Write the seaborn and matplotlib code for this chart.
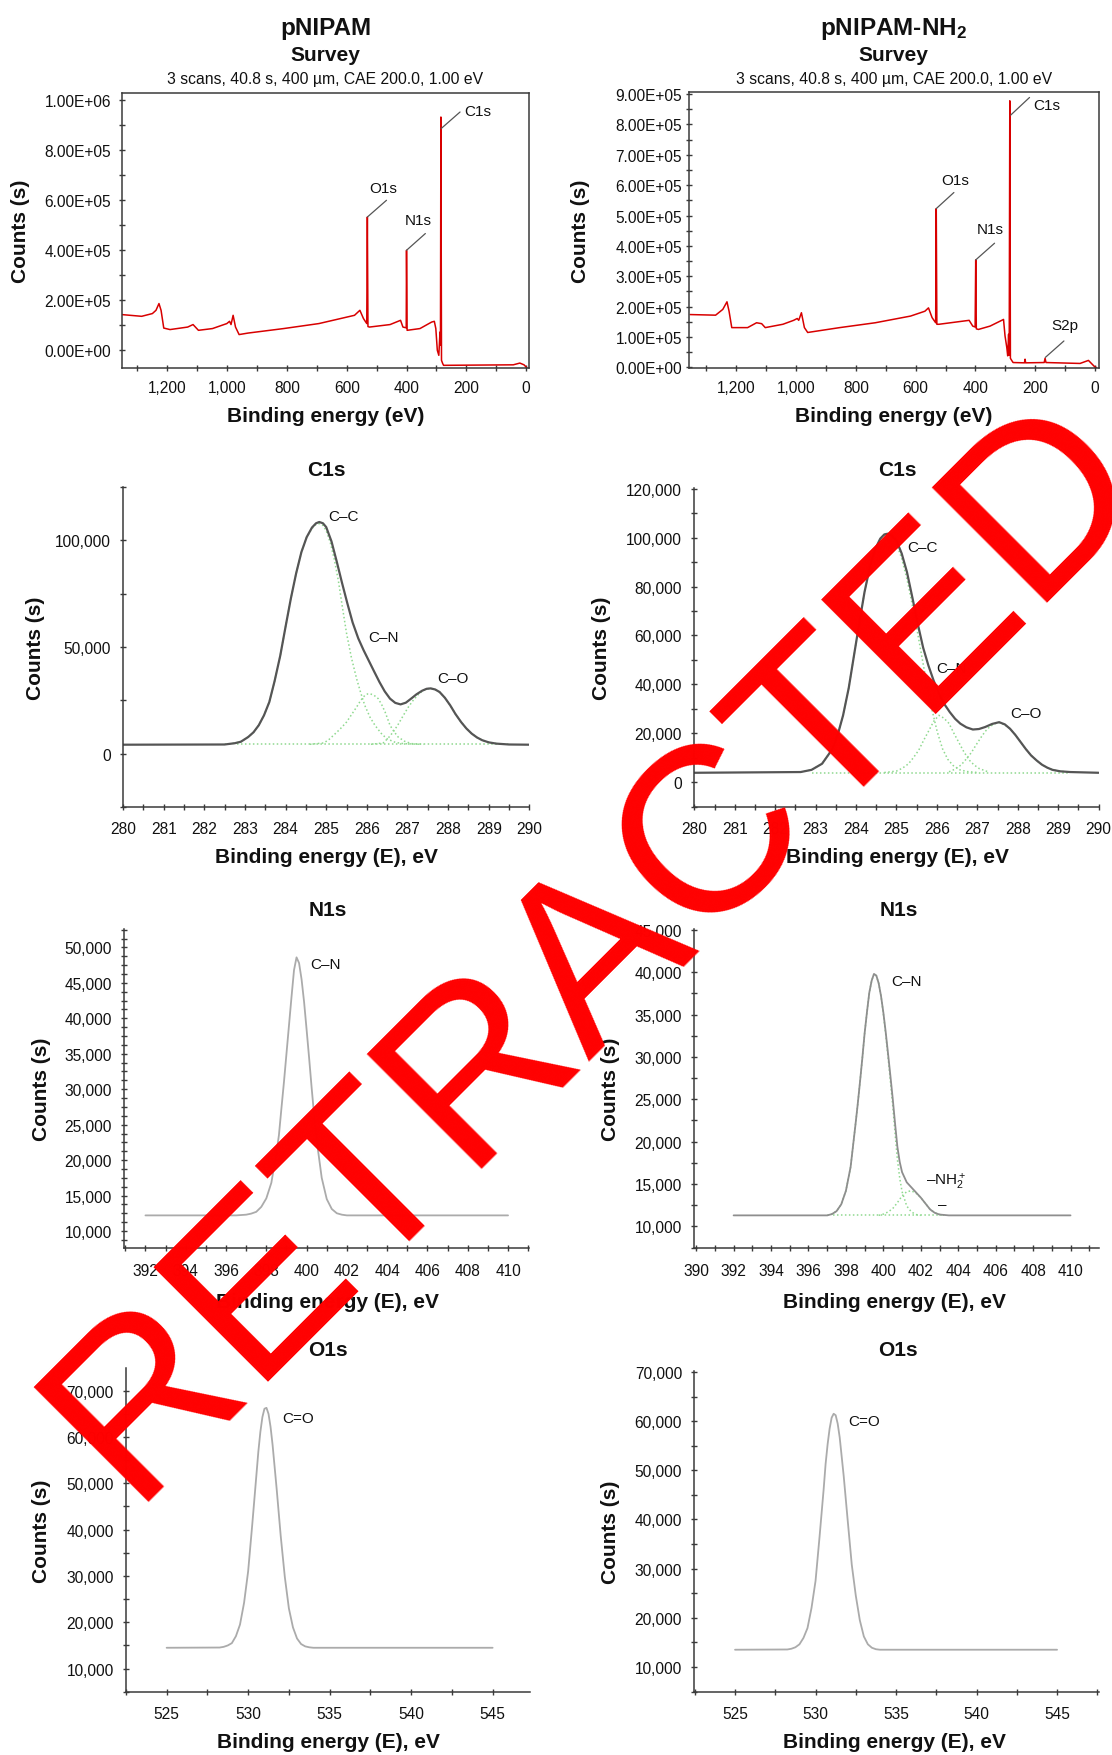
import numpy as np
import pandas as pd
import matplotlib
matplotlib.use("Agg")
import matplotlib.pyplot as plt
import seaborn as sns
from matplotlib.ticker import MultipleLocator, FuncFormatter

# ---------------- DATA ----------------
# Survey, pNIPAM (binding energy eV, counts)
surv1_E = [1353, 1286, 1250, 1238, 1228, 1221, 1212, 1191, 1132, 1114, 1096, 1049, 1001, 992, 987, 980,
           972, 960, 930, 811, 693, 574, 556, 544, 533, 531, 529, 524, 455, 420, 412, 401, 400, 398,
           355, 316, 307, 302, 297, 292, 288, 286.5, 285, 283, 279, 276, 43, 21, 7, -2]
surv1_C = [143000, 136000, 147000, 160000, 187000, 160000, 89000, 83000, 93000, 103000, 80000, 87000,
           107000, 116000, 103000, 140000, 93000, 63000, 69000, 87000, 107000, 140000, 160000, 127000,
           107000, 533000, 95000, 93000, 103000, 120000, 93000, 90000, 400000, 80000,
           87000, 113000, 116000, 87000, 0, -20000, 73000, 20000, 933000, -40000, -53000, -60000,
           -58000, -51000, -58000, -69000]
# Survey, pNIPAM-NH2
surv2_E = [1354, 1269, 1245, 1231, 1224, 1215, 1162, 1132, 1115, 1103, 1044, 1008, 996, 991, 982, 972,
           961, 854, 735, 617, 569, 557, 545, 533, 531, 529, 522, 421, 409, 401, 399, 397, 390, 351,
           312, 306, 301, 295, 292, 289, 287, 285, 283, 278, 274, 236, 234, 232, 170, 167, 164, 50,
           22, 0, -4]
surv2_C = [174000, 172000, 191000, 216000, 185000, 131000, 131000, 147000, 144000, 131000, 142000,
           155000, 161000, 155000, 180000, 131000, 115000, 131000, 147000, 169000, 185000, 196000,
           164000, 147000, 523000, 142000, 142000, 155000, 136000, 133000, 354000, 127000, 125000,
           136000, 155000, 158000, 104000, 65000, 38000, 109000, 40000, 878000, 30000, 22000, 16000,
           15000, 27000, 15000, 16000, 30000, 16000, 13000, 23000, 1000, 0]

# C1s, pNIPAM: envelope and fitted components
c1s1_E = [280.0, 282.5, 282.75, 282.9, 283.08, 283.21, 283.34, 283.47, 283.6, 283.73, 283.87, 284.0,
          284.13, 284.26, 284.39, 284.52, 284.65, 284.75, 284.83, 284.92, 285.0, 285.13, 285.26, 285.39,
          285.52, 285.65, 285.79, 285.92, 286.05, 286.18, 286.31, 286.44, 286.57, 286.7, 286.83, 286.96,
          287.09, 287.22, 287.36, 287.47, 287.57, 287.68, 287.79, 287.92, 288.05, 288.18, 288.32,
          288.45, 288.58, 288.71, 288.84, 289.0, 289.19, 289.5, 290.0]
c1s1_C = [4200, 4300, 4900, 5600, 7800, 10000, 13300, 18000, 24200, 34000, 46000, 59500, 72700, 84500,
          94500, 101500, 106000, 108000, 108600, 108000, 106200, 99500, 90000, 80000, 70500, 61500,
          54000, 48500, 43500, 38500, 33600, 29200, 25800, 23800, 23100, 23900, 25800, 27800, 29500,
          30400, 30600, 30100, 28900, 26200, 22700, 18600, 14800, 11800, 9400, 7600, 6300, 5300, 4700,
          4300, 4200]
c1s1_cc_E = [282.5, 282.75, 282.9, 283.08, 283.21, 283.34, 283.47, 283.6, 283.73, 283.87, 284.0, 284.13,
             284.26, 284.39, 284.52, 284.65, 284.75, 284.83, 284.92, 285.0, 285.1, 285.2, 285.3, 285.4,
             285.5, 285.62, 285.75, 285.85, 285.95, 286.08, 286.2, 286.35, 286.49, 286.7, 286.9, 287.3]
c1s1_cc_C = [4400, 4900, 5600, 7800, 10000, 13300, 18000, 24200, 34000, 46000, 59500, 72700, 84500,
             94500, 101500, 105500, 107500, 107800, 107000, 104500, 99000, 91000, 81000, 68500, 56500,
             45000, 35000, 28500, 22600, 17000, 13300, 9600, 7000, 5300, 4700, 4400]
c1s1_cn_E = [284.6, 284.93, 285.05, 285.18, 285.34, 285.5, 285.62, 285.75, 285.85, 285.95, 286.02, 286.08,
             286.18, 286.28, 286.37, 286.45, 286.51, 286.57, 286.67, 286.77, 286.93, 287.1, 287.4]
c1s1_cn_C = [4400, 5000, 6300, 8600, 11500, 14800, 18200, 21900, 25000, 27300, 28000, 28100, 27300,
             25800, 22800, 19500, 16400, 13300, 10300, 7800, 5800, 4700, 4400]
c1s1_co_E = [286.1, 286.4, 286.52, 286.65, 286.78, 286.9, 287.02, 287.14, 287.27, 287.39, 287.48, 287.57,
             287.68, 287.79, 287.92, 288.05, 288.18, 288.32, 288.45, 288.58, 288.71, 288.84, 289.0,
             289.19, 289.5]
c1s1_co_C = [4400, 5000, 7200, 10200, 14000, 18000, 21800, 25000, 27800, 29700, 30400, 30600, 30100,
             28900, 26200, 22700, 18600, 14800, 11800, 9400, 7600, 6300, 5300, 4700, 4400]
c1s1_bg_E = [282.8, 289.3]
c1s1_bg_C = [4400, 4400]

# C1s, pNIPAM-NH2
c1s2_E = [280.0, 282.63, 282.9, 283.16, 283.42, 283.55, 283.68, 283.82, 283.95, 284.08, 284.21, 284.34,
          284.47, 284.6, 284.7, 284.78, 284.88, 285.0, 285.13, 285.26, 285.4, 285.53, 285.66, 285.79,
          285.92, 286.05, 286.18, 286.32, 286.45, 286.58, 286.73, 286.89, 287.04, 287.19, 287.37,
          287.54, 287.68, 287.81, 287.94, 288.07, 288.2, 288.33, 288.47, 288.6, 288.73, 288.86, 289.05,
          289.3, 290.0]
c1s2_C = [3800, 4100, 5000, 7500, 13600, 19500, 27300, 38500, 51800, 65000, 77700, 87800, 95200, 99600,
          101300, 101600, 101000, 98800, 93500, 85900, 75000, 64500, 55000, 47700, 41500, 36300, 32000,
          28600, 25900, 23900, 22400, 21500, 21700, 22500, 23800, 24500, 23600, 21800, 19300, 16400,
          13500, 10900, 8800, 7100, 5900, 5000, 4400, 4100, 3800]
c1s2_cc_E = [282.63, 282.9, 283.16, 283.42, 283.55, 283.68, 283.82, 283.95, 284.08, 284.21, 284.34,
             284.47, 284.6, 284.7, 284.78, 284.88, 285.0, 285.13, 285.26, 285.35, 285.48, 285.61,
             285.74, 285.88, 286.01, 286.14, 286.27, 286.4, 286.57, 286.75, 287.0]
c1s2_cc_C = [4100, 5000, 7500, 13600, 19500, 27300, 38500, 51800, 65000, 77700, 87800, 95000, 99300,
             100800, 101000, 100300, 97500, 91500, 83000, 76000, 65000, 53000, 41000, 29500, 20500,
             13600, 9300, 6800, 5000, 4300, 3900]
c1s2_cn_E = [284.7, 285.0, 285.15, 285.3, 285.42, 285.55, 285.67, 285.8, 285.92, 286.05, 286.17, 286.3,
             286.42, 286.55, 286.67, 286.8, 286.92, 287.05, 287.3]
c1s2_cn_C = [3900, 4500, 5700, 7500, 10000, 13000, 17000, 21000, 24800, 27300, 26200, 24000, 20000,
             16000, 12300, 9000, 7000, 5500, 4000]
c1s2_co_E = [286.3, 286.45, 286.6, 286.72, 286.85, 286.97, 287.1, 287.2, 287.3, 287.42, 287.54, 287.68,
             287.81, 287.94, 288.07, 288.2, 288.33, 288.47, 288.6, 288.73, 288.86, 289.05, 289.3]
c1s2_co_C = [4200, 5300, 7000, 9300, 12000, 15200, 18500, 20800, 22500, 23800, 24300, 23400, 21800,
             19300, 16400, 13500, 10900, 8800, 7100, 5900, 5000, 4400, 4100]
c1s2_bg_E = [282.9, 289.3]
c1s2_bg_C = [3900, 3900]

# N1s, pNIPAM
n1s1_E = [392, 396.5, 396.75, 397.0, 397.25, 397.5, 397.75, 398.0, 398.25, 398.5, 398.625, 398.75,
          398.875, 399.0, 399.125, 399.25, 399.375, 399.5, 399.625, 399.75, 399.875, 400.0, 400.125,
          400.25, 400.375, 400.5, 400.75, 401.0, 401.25, 401.5, 401.75, 402.0, 410]
n1s1_C = [12200, 12200, 12250, 12300, 12450, 12700, 13400, 14600, 16800, 21000, 23500, 27300, 31000,
          35000, 39000, 43000, 46800, 48600, 47800, 45500, 42300, 38400, 34400, 30200, 26300, 22800,
          17500, 14500, 13100, 12500, 12300, 12200, 12200]

# N1s, pNIPAM-NH2
n1s2_E = [392, 397.0, 397.25, 397.5, 397.75, 398.0, 398.25, 398.5, 398.625, 398.75, 398.875, 399.0,
          399.125, 399.25, 399.375, 399.5, 399.625, 399.75, 399.875, 400.0, 400.125, 400.25, 400.375,
          400.5, 400.625, 400.75, 400.875, 401.0, 401.25, 401.5, 401.75, 402.0, 402.25, 402.5, 402.75,
          403.0, 403.5, 410]
n1s2_C = [11300, 11300, 11450, 11800, 12600, 14200, 17000, 21800, 24300, 27000, 29800, 32800, 35300,
          37600, 39000, 39800, 39600, 38700, 37200, 35250, 32950, 30400, 27800, 25100, 22150, 19400,
          17600, 16400, 15200, 14600, 14000, 13400, 12700, 12000, 11600, 11400, 11300, 11300]
n1s2_cn_E = [397.0, 397.25, 397.5, 397.75, 398.0, 398.25, 398.5, 398.625, 398.75, 398.875, 399.0,
             399.125, 399.25, 399.375, 399.5, 399.625, 399.75, 399.875, 400.0, 400.125, 400.25, 400.375,
             400.5, 400.625, 400.75, 400.875, 401.0, 401.25, 401.5, 401.75, 402.0]
n1s2_cn_C = [11300, 11450, 11800, 12600, 14200, 17000, 21800, 24300, 27000, 29800, 32800, 35300, 37600,
             39000, 39800, 39600, 38700, 37200, 35100, 32700, 30000, 27200, 24300, 21000, 17900, 15700,
             14100, 12400, 11700, 11400, 11300]
n1s2_nh_E = [399.75, 400.0, 400.25, 400.5, 400.75, 401.0, 401.25, 401.5, 401.75, 402.0, 402.25, 402.5,
             402.75, 403.0, 403.3]
n1s2_nh_C = [11300, 11450, 11700, 12100, 12800, 13600, 14100, 14200, 13900, 13400, 12700, 12000, 11600,
             11400, 11300]
n1s2_bg_E = [397.3, 403.2]
n1s2_bg_C = [11300, 11300]

# O1s
o1s1_E = [525, 528.25, 528.5, 528.75, 529.0, 529.25, 529.5, 529.75, 530.0, 530.25, 530.5, 530.625,
          530.75, 530.875, 531.0, 531.125, 531.25, 531.375, 531.5, 531.75, 532.0, 532.25, 532.5, 532.75,
          533.0, 533.25, 533.5, 533.75, 534.0, 545]
o1s1_C = [14500, 14550, 14700, 15000, 15500, 17000, 19500, 24200, 31000, 41000, 51500, 56800, 61100,
          64300, 66100, 66300, 65000, 62200, 58300, 48800, 38600, 29800, 23000, 18900, 16500, 15300,
          14800, 14600, 14500, 14500]
o1s2_E = [525, 528.25, 528.5, 528.75, 529.0, 529.25, 529.5, 529.75, 530.0, 530.25, 530.5, 530.625,
          530.75, 530.875, 531.0, 531.125, 531.25, 531.375, 531.5, 531.75, 532.0, 532.25, 532.5, 532.75,
          533.0, 533.25, 533.5, 533.75, 534.0, 545]
o1s2_C = [13500, 13550, 13700, 14000, 14600, 15900, 17900, 22000, 27500, 36500, 46000, 51300, 55300,
          58500, 60700, 61500, 61200, 59500, 56700, 48800, 39700, 30800, 24500, 19500, 16200, 14600,
          13900, 13600, 13500, 13500]

# ---------------- STYLE ----------------
sns.set_theme(style="ticks")
plt.rcParams['font.family'] = ['Liberation Sans', 'DejaVu Sans']
plt.rcParams['mathtext.fontset'] = 'custom'
plt.rcParams['mathtext.rm'] = 'Liberation Sans'
plt.rcParams['mathtext.it'] = 'Liberation Sans:italic'
plt.rcParams['mathtext.bf'] = 'Liberation Sans:bold'
plt.rcParams['lines.solid_joinstyle'] = 'round'

W, H = 1112, 1756
fig = plt.figure(figsize=(W / 100, H / 100), dpi=100)
fig.patch.set_facecolor('white')

TXT = '#111111'
SP = '#3a3a3a'
GREEN = '#8fd98f'


def add_ax(l, t, r, b):
    return fig.add_axes([l / W, 1 - b / H, (r - l) / W, (b - t) / H])


def ftext(x, y, s, **kw):
    kw.setdefault('color', TXT)
    return fig.text(x / W, 1 - y / H, s, **kw)


def style(ax, box, xpad, ypad):
    ax.set_facecolor('white')
    for s in ['top', 'right']:
        ax.spines[s].set_visible(box)
    for s in ax.spines.values():
        s.set_color(SP)
        s.set_linewidth(1.1)
    ax.tick_params(which='both', direction='inout', color=SP, width=1.0, labelsize=11.2,
                   labelcolor=TXT, top=False, right=False)
    ax.tick_params(which='major', length=5)
    ax.tick_params(which='minor', length=4)
    ax.tick_params(axis='x', which='both', pad=xpad)
    ax.tick_params(axis='y', which='both', pad=ypad)


def labels(ax, rect, xlab, xlab_y, ylab_x, xlab_x=None):
    l, t, r, b = rect
    ax.set_xlabel(xlab, fontsize=15, fontweight='bold', color=TXT)
    ax.set_ylabel('Counts (s)', fontsize=15, fontweight='bold', color=TXT)
    if xlab_x is None:
        xlab_x = (l + r) / 2
    ax.xaxis.set_label_coords((xlab_x - l) / (r - l), (b - xlab_y) / (b - t))
    ax.xaxis.label.set_va('center')
    ax.yaxis.set_label_coords((ylab_x - l) / (r - l), 0.5)
    ax.yaxis.label.set_va('center')


comma = FuncFormatter(lambda v, p: f"{v:,.0f}")
sci = FuncFormatter(lambda v, p: f"{v:.2E}")
plain = FuncFormatter(lambda v, p: f"{v:.0f}")

# ---------------- ROW 1: SURVEYS ----------------
survey_sub = "3 scans, 40.8 s, 400 µm, CAE 200.0, 1.00 eV"
for (rect, E, C, xlim, ylim, ymaj, ymin, ypad, title, annots, ylx) in [
    ((121.6, 94, 529.4, 369), surv1_E, surv1_C, (1353, -11), (-70700, 1029000), 2e5, 1e5, 5,
     "pNIPAM",
     [("O1s", (531, 533000), (467, 600000), (477, 651000)),
      ("N1s", (400, 400000), (337, 467000), (361, 520000)),
      ("C1s", (284, 887000), (221, 953000), (161, 956000))], 20.2),
    ((689, 93, 1098.6, 369), surv2_E, surv2_C, (1358, -12), (-2000, 907000), 1e5, 5e4, 2.5,
     r"pNIPAM-NH$_\mathbf{2}$",
     [("O1s", (531, 523000), (472, 576000), (468, 616000)),
      ("N1s", (399, 354000), (336, 409000), (350, 456000)),
      ("C1s", (282, 831000), (219, 889000), (160, 864000)),
      ("S2p", (166, 33000), (104, 87000), (101, 138000))], 580.8)]:
    ax = add_ax(*rect)
    sns.lineplot(x=E, y=C, ax=ax, color='#d80000', linewidth=1.1, sort=False, estimator=None)
    ax.set_xlim(*xlim)
    ax.set_ylim(*ylim)
    style(ax, True, 6, ypad)
    ax.xaxis.set_major_locator(MultipleLocator(200))
    ax.xaxis.set_minor_locator(MultipleLocator(100))
    ax.yaxis.set_major_locator(MultipleLocator(ymaj))
    ax.yaxis.set_minor_locator(MultipleLocator(ymin))
    ax.xaxis.set_major_formatter(comma)
    ax.yaxis.set_major_formatter(sci)
    for name, p0, p1, pl in annots:
        ax.plot([p0[0], p1[0]], [p0[1], p1[1]], color='#555555', lw=0.9)
        ax.text(pl[0], pl[1], name, fontsize=11, ha='center', va='center', color=TXT)
    labels(ax, rect, 'Binding energy (eV)', 417, ylx)
    cx = (rect[0] + rect[2]) / 2
    ftext(cx, 35, title, fontsize=17.5, fontweight='bold', ha='center', va='baseline')
    ftext(cx, 61, "Survey", fontsize=15, fontweight='bold', ha='center', va='baseline')
    ftext(cx, 84, survey_sub, fontsize=11.3, ha='center', va='baseline')


# ---------------- HIGH-RES PANELS ----------------
def hires(rect, E, C, color, lw, xlim, ylim, xmaj, xmin, ymaj, ymin, title, title_x, title_y,
          xlab_y, ylab_x, xpad, comps=(), annots=(), xlab_x=None):
    ax = add_ax(*rect)
    for cE, cC in comps:
        sns.lineplot(x=cE, y=cC, ax=ax, color=GREEN, linewidth=1.1, linestyle=(0, (1, 1.6)),
                     sort=False, estimator=None)
    sns.lineplot(x=E, y=C, ax=ax, color=color, linewidth=lw, sort=False, estimator=None)
    ax.set_xlim(*xlim)
    ax.set_ylim(*ylim)
    style(ax, False, xpad, 6.3)
    ax.xaxis.set_major_locator(MultipleLocator(xmaj))
    ax.xaxis.set_minor_locator(MultipleLocator(xmin))
    ax.yaxis.set_major_locator(MultipleLocator(ymaj))
    ax.yaxis.set_minor_locator(MultipleLocator(ymin))
    ax.xaxis.set_major_formatter(plain)
    ax.yaxis.set_major_formatter(comma)
    labels(ax, rect, 'Binding energy (E), eV', xlab_y, ylab_x, xlab_x)
    ftext(title_x, title_y, title, fontsize=15, fontweight='bold', ha='center', va='baseline')
    for s, x, y in annots:
        ftext(x, y, s, fontsize=11, ha='center', va='center')
    return ax


# Row 2: C1s
hires((123, 488, 529.4, 808), c1s1_E, c1s1_C, '#555555', 1.6, (280, 290), (-25000, 125000),
      1, 0.5, 50000, 25000, "C1s", 326.2, 475.7, 858, 35.5, 7.5,
      comps=[(c1s1_bg_E, c1s1_bg_C), (c1s1_cc_E, c1s1_cc_C), (c1s1_cn_E, c1s1_cn_C), (c1s1_co_E, c1s1_co_C)],
      annots=[("C–C", 343.3, 517), ("C–N", 383.7, 638), ("C–O", 453.2, 679)], xlab_x=326.8)
hires((694.3, 489, 1098.6, 808), c1s2_E, c1s2_C, '#555555', 1.6, (280, 290), (-10200, 120300),
      1, 0.5, 20000, 10000, "C1s", 897.5, 475.7, 858, 601.4, 7.5,
      comps=[(c1s2_bg_E, c1s2_bg_C), (c1s2_cc_E, c1s2_cc_C), (c1s2_cn_E, c1s2_cn_C), (c1s2_co_E, c1s2_co_C)],
      annots=[("C–C", 923, 548), ("C–N", 951.4, 669), ("C–O", 1025.9, 714)], xlab_x=897.8)

# Row 3: N1s
hires((124.1, 930, 529.4, 1249), n1s1_E, n1s1_C, '#ababab', 1.3, (390.94, 411.06), (7600, 52600),
      2, 1, 5000, 1250, "N1s", 328, 915.7, 1302, 41.8, 8,
      annots=[("C–N", 325.5, 965)], xlab_x=327)
hires((694.3, 930, 1098.6, 1249), n1s2_E, n1s2_C, '#8e8e8e', 1.3, (389.9, 411.5), (7450, 45100),
      2, 1, 5000, 2500, "N1s", 899.3, 915.7, 1302, 611, 8,
      comps=[(n1s2_bg_E, n1s2_bg_C), (n1s2_cn_E, n1s2_cn_C), (n1s2_nh_E, n1s2_nh_C)],
      annots=[("C–N", 907, 982), (r"–NH$_2^+$", 946, 1182), ("–", 942.5, 1205)], xlab_x=894.6)

# Row 4: O1s
hires((125.9, 1369, 530.1, 1693), o1s1_E, o1s1_C, '#ababab', 1.3, (522.5, 547.3), (4950, 74900),
      5, 2.5, 10000, 5000, "O1s", 328, 1355.7, 1743, 41.8, 7.7,
      annots=[("C=O", 297.9, 1419)], xlab_x=328)
hires((694.3, 1372, 1098.6, 1693), o1s2_E, o1s2_C, '#ababab', 1.3, (522.47, 547.58), (4900, 70200),
      5, 2.5, 10000, 5000, "O1s", 898.2, 1355.7, 1743, 611, 7.7,
      annots=[("C=O", 864.5, 1422)], xlab_x=894.6)

# ---------------- WATERMARK ----------------
ftext(639, 991, "RETRACTED", fontsize=170, color='#ff0000', rotation=45, rotation_mode='anchor',
      ha='center', va='baseline', zorder=100, family='Liberation Sans')

fig.savefig("out.png", dpi=100, facecolor='white')
